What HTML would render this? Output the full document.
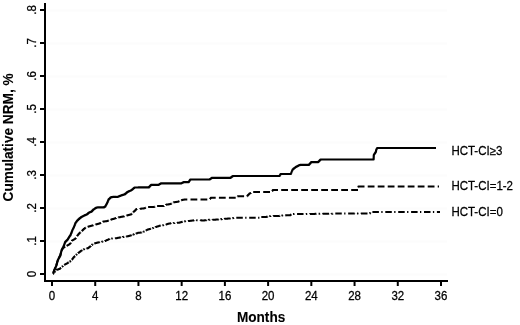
<!DOCTYPE html>
<html><head><meta charset="utf-8"><style>
html,body{margin:0;padding:0;background:#fff;width:520px;height:325px;overflow:hidden}
svg{display:block;will-change:transform}
text{font-family:"Liberation Sans", sans-serif;fill:#000;stroke:#000;stroke-width:0.25px}
</style></head><body>
<svg width="520" height="325" viewBox="0 0 520 325">
<rect width="520" height="325" fill="#fff"/>
<line x1="47" y1="274.5" x2="447" y2="274.5" stroke="#fcfcfc" stroke-width="2"/>
<line x1="47" y1="241.5" x2="447" y2="241.5" stroke="#fcfcfc" stroke-width="2"/>
<line x1="47" y1="208.5" x2="447" y2="208.5" stroke="#fcfcfc" stroke-width="2"/>
<line x1="47" y1="175.5" x2="447" y2="175.5" stroke="#fcfcfc" stroke-width="2"/>
<line x1="47" y1="142.5" x2="447" y2="142.5" stroke="#fcfcfc" stroke-width="2"/>
<line x1="47" y1="109.5" x2="447" y2="109.5" stroke="#fcfcfc" stroke-width="2"/>
<line x1="47" y1="76.5" x2="447" y2="76.5" stroke="#fcfcfc" stroke-width="2"/>
<line x1="47" y1="43.5" x2="447" y2="43.5" stroke="#fcfcfc" stroke-width="2"/>
<line x1="47" y1="10.5" x2="447" y2="10.5" stroke="#fcfcfc" stroke-width="2"/>
<polyline points="53.00,273.50 53.19,273.50 53.19,273.01 53.38,273.01 53.38,272.52 53.56,272.52 53.56,272.04 53.75,272.04 53.75,271.55 53.94,271.55 53.94,271.06 54.12,271.06 54.12,270.58 54.31,270.58 54.31,270.09 54.50,270.09 54.50,269.60 54.71,269.60 54.71,269.13 54.93,269.13 54.93,268.66 55.14,268.66 55.14,268.19 55.36,268.19 55.36,267.71 55.57,267.71 55.57,267.24 55.79,267.24 55.79,266.77 56.00,266.77 56.00,266.30 56.14,266.30 56.14,265.83 56.28,265.83 56.28,265.36 56.42,265.36 56.42,264.89 56.55,264.89 56.55,264.42 56.69,264.42 56.69,263.95 56.83,263.95 56.83,263.48 56.97,263.48 56.97,263.02 57.11,263.02 57.11,262.55 57.25,262.55 57.25,262.08 57.38,262.08 57.38,261.61 57.52,261.61 57.52,261.14 57.66,261.14 57.66,260.67 57.80,260.67 57.80,260.20 58.05,260.20 58.05,259.70 58.30,259.70 58.30,259.20 58.55,259.20 58.55,258.70 58.80,258.70 58.80,258.20 59.05,258.20 59.05,257.70 59.30,257.70 59.30,257.20 59.55,257.20 59.55,256.70 59.80,256.70 59.80,256.20 60.05,256.20 60.05,255.70 60.30,255.70 60.30,255.20 60.42,255.20 60.42,254.72 60.54,254.72 60.54,254.24 60.66,254.24 60.66,253.76 60.78,253.76 60.78,253.28 60.90,253.28 60.90,252.80 61.02,252.80 61.02,252.32 61.14,252.32 61.14,251.84 61.26,251.84 61.26,251.36 61.38,251.36 61.38,250.88 61.50,250.88 61.50,250.40 61.74,250.40 61.74,249.94 61.98,249.94 61.98,249.47 62.21,249.47 62.21,249.01 62.45,249.01 62.45,248.55 62.69,248.55 62.69,248.09 62.92,248.09 62.92,247.62 63.16,247.62 63.16,247.16 63.40,247.16 63.40,246.70 63.58,246.70 63.58,246.21 63.76,246.21 63.76,245.72 63.94,245.72 63.94,245.23 64.12,245.23 64.12,244.74 64.30,244.74 64.30,244.25 64.48,244.25 64.48,243.76 64.66,243.76 64.66,243.27 64.84,243.27 64.84,242.78 65.02,242.78 65.02,242.29 65.20,242.29 65.20,241.80 65.70,241.80 65.70,241.30 66.20,241.30 66.20,240.80 66.70,240.80 66.70,240.30 67.20,240.30 67.20,239.80 67.70,239.80 67.70,239.30 68.00,239.30 68.00,238.80 68.30,238.80 68.30,238.30 68.60,238.30 68.60,237.80 68.90,237.80 68.90,237.30 69.20,237.30 69.20,236.80 69.53,236.80 69.53,236.35 69.85,236.35 69.85,235.90 70.17,235.90 70.17,235.45 70.50,235.45 70.50,235.00 70.68,235.00 70.68,234.54 70.86,234.54 70.86,234.08 71.04,234.08 71.04,233.62 71.22,233.62 71.22,233.16 71.40,233.16 71.40,232.70 71.58,232.70 71.58,232.24 71.76,232.24 71.76,231.78 71.94,231.78 71.94,231.32 72.12,231.32 72.12,230.86 72.30,230.86 72.30,230.40 72.51,230.40 72.51,229.96 72.73,229.96 72.73,229.51 72.94,229.51 72.94,229.07 73.16,229.07 73.16,228.63 73.37,228.63 73.37,228.19 73.59,228.19 73.59,227.74 73.80,227.74 73.80,227.30 74.00,227.30 74.00,226.80 74.20,226.80 74.20,226.30 74.40,226.30 74.40,225.80 74.60,225.80 74.60,225.30 74.80,225.30 74.80,224.80 74.95,224.80 74.95,224.35 75.10,224.35 75.10,223.90 75.25,223.90 75.25,223.45 75.40,223.45 75.40,223.00 75.76,223.00 75.76,222.50 76.12,222.50 76.12,222.00 76.48,222.00 76.48,221.50 76.84,221.50 76.84,221.00 77.20,221.00 77.20,220.50 77.67,220.50 77.67,220.05 78.15,220.05 78.15,219.60 78.62,219.60 78.62,219.15 79.10,219.15 79.10,218.70 79.58,218.70 79.58,218.32 80.06,218.32 80.06,217.94 80.54,217.94 80.54,217.56 81.02,217.56 81.02,217.18 81.50,217.18 81.50,216.80 82.00,216.80 82.00,216.56 82.50,216.56 82.50,216.32 83.00,216.32 83.00,216.08 83.50,216.08 83.50,215.84 84.00,215.84 84.00,215.60 84.44,215.60 84.44,215.40 84.89,215.40 84.89,215.20 85.33,215.20 85.33,215.00 85.77,215.00 85.77,214.80 86.21,214.80 86.21,214.60 86.66,214.60 86.66,214.40 87.10,214.40 87.10,214.20 87.55,214.20 87.55,213.77 88.00,213.77 88.00,213.35 88.45,213.35 88.45,212.93 88.90,212.93 88.90,212.50 89.40,212.50 89.40,212.32 89.90,212.32 89.90,212.14 90.40,212.14 90.40,211.96 90.90,211.96 90.90,211.78 91.40,211.78 91.40,211.60 91.85,211.60 91.85,211.10 92.30,211.10 92.30,210.60 92.75,210.60 92.75,210.10 93.20,210.10 93.20,209.60 93.64,209.60 93.64,209.31 94.09,209.31 94.09,209.03 94.53,209.03 94.53,208.74 94.97,208.74 94.97,208.46 95.41,208.46 95.41,208.17 95.86,208.17 95.86,207.89 96.30,207.89 96.30,207.60 96.74,207.60 96.74,207.56 97.19,207.56 97.19,207.51 97.63,207.51 97.63,207.47 98.07,207.47 98.07,207.43 98.51,207.43 98.51,207.39 98.96,207.39 98.96,207.34 99.40,207.34 99.40,207.30 99.88,207.30 99.88,207.32 100.36,207.32 100.36,207.34 100.83,207.34 100.83,207.37 101.31,207.37 101.31,207.39 101.79,207.39 101.79,207.41 102.27,207.41 102.27,207.43 102.74,207.43 102.74,207.46 103.22,207.46 103.22,207.48 103.70,207.48 103.70,207.50 104.15,207.50 104.15,207.15 104.60,207.15 104.60,206.80 105.05,206.80 105.05,206.45 105.50,206.45 105.50,206.10 105.74,206.10 105.74,205.64 105.97,205.64 105.97,205.18 106.21,205.18 106.21,204.71 106.45,204.71 106.45,204.25 106.69,204.25 106.69,203.79 106.93,203.79 106.93,203.32 107.16,203.32 107.16,202.86 107.40,202.86 107.40,202.40 107.57,202.40 107.57,201.96 107.74,201.96 107.74,201.51 107.91,201.51 107.91,201.07 108.09,201.07 108.09,200.63 108.26,200.63 108.26,200.19 108.43,200.19 108.43,199.74 108.60,199.74 108.60,199.30 109.04,199.30 109.04,198.90 109.48,198.90 109.48,198.50 109.92,198.50 109.92,198.10 110.36,198.10 110.36,197.70 110.80,197.70 110.80,197.30 111.22,197.30 111.22,197.22 111.64,197.22 111.64,197.14 112.06,197.14 112.06,197.06 112.48,197.06 112.48,196.98 112.90,196.98 112.90,196.90 113.38,196.90 113.38,196.91 113.86,196.91 113.86,196.92 114.33,196.92 114.33,196.93 114.81,196.93 114.81,196.94 115.29,196.94 115.29,196.96 115.77,196.96 115.77,196.97 116.24,196.97 116.24,196.98 116.72,196.98 116.72,196.99 117.20,196.99 117.20,197.00 117.66,197.00 117.66,196.81 118.12,196.81 118.12,196.62 118.59,196.62 118.59,196.44 119.05,196.44 119.05,196.25 119.51,196.25 119.51,196.06 119.98,196.06 119.98,195.88 120.44,195.88 120.44,195.69 120.90,195.69 120.90,195.50 121.36,195.50 121.36,195.35 121.83,195.35 121.83,195.20 122.29,195.20 122.29,195.05 122.75,195.05 122.75,194.90 123.21,194.90 123.21,194.75 123.67,194.75 123.67,194.60 124.14,194.60 124.14,194.45 124.60,194.45 124.60,194.30 125.10,194.30 125.10,193.86 125.60,193.86 125.60,193.42 126.10,193.42 126.10,192.98 126.60,192.98 126.60,192.54 127.10,192.54 127.10,192.10 127.58,192.10 127.58,191.88 128.06,191.88 128.06,191.66 128.53,191.66 128.53,191.43 129.01,191.43 129.01,191.21 129.49,191.21 129.49,190.99 129.97,190.99 129.97,190.77 130.44,190.77 130.44,190.54 130.92,190.54 130.92,190.32 131.40,190.32 131.40,190.10 131.84,190.10 131.84,189.73 132.29,189.73 132.29,189.36 132.73,189.36 132.73,188.99 133.17,188.99 133.17,188.61 133.61,188.61 133.61,188.24 134.06,188.24 134.06,187.87 134.50,187.87 134.50,187.50 134.99,187.50 134.99,187.50 135.47,187.50 135.47,187.49 135.96,187.49 135.96,187.49 136.44,187.49 136.44,187.49 136.93,187.49 136.93,187.48 137.42,187.48 137.42,187.48 137.90,187.48 137.90,187.48 138.39,187.48 138.39,187.47 138.88,187.47 138.88,187.47 139.36,187.47 139.36,187.47 139.85,187.47 139.85,187.46 140.33,187.46 140.33,187.46 140.82,187.46 140.82,187.46 141.31,187.46 141.31,187.45 141.79,187.45 141.79,187.45 142.28,187.45 142.28,187.44 142.77,187.44 142.77,187.44 143.25,187.44 143.25,187.44 143.74,187.44 143.74,187.43 144.22,187.43 144.22,187.43 144.71,187.43 144.71,187.43 145.20,187.43 145.20,187.42 145.68,187.42 145.68,187.42 146.17,187.42 146.17,187.42 146.66,187.42 146.66,187.41 147.14,187.41 147.14,187.41 147.63,187.41 147.63,187.41 148.11,187.41 148.11,187.40 148.60,187.40 148.60,187.40 149.02,187.40 149.02,186.97 149.43,186.97 149.43,186.53 149.85,186.53 149.85,186.10 150.27,186.10 150.27,185.67 150.68,185.67 150.68,185.23 151.10,185.23 151.10,184.80 151.59,184.80 152.09,184.80 152.58,184.80 153.07,184.80 153.57,184.80 154.06,184.80 154.55,184.80 155.05,184.80 155.54,184.80 156.03,184.80 156.53,184.80 157.02,184.80 157.51,184.80 158.01,184.80 158.50,184.80 158.98,184.80 158.98,184.50 159.46,184.50 159.46,184.20 159.94,184.20 159.94,183.90 160.42,183.90 160.42,183.60 160.90,183.60 160.90,183.30 161.39,183.30 161.89,183.30 162.38,183.30 162.87,183.30 163.36,183.30 163.86,183.30 164.35,183.30 164.84,183.30 165.33,183.30 165.83,183.30 166.32,183.30 166.81,183.30 167.30,183.30 167.80,183.30 168.29,183.30 168.78,183.30 169.28,183.30 169.77,183.30 170.26,183.30 170.75,183.30 171.25,183.30 171.74,183.30 172.23,183.30 172.72,183.30 173.22,183.30 173.71,183.30 174.20,183.30 174.70,183.30 175.19,183.30 175.68,183.30 176.17,183.30 176.67,183.30 177.16,183.30 177.65,183.30 178.14,183.30 178.64,183.30 179.13,183.30 179.62,183.30 180.11,183.30 180.61,183.30 181.10,183.30 181.58,183.30 181.58,183.08 182.06,183.08 182.06,182.86 182.54,182.86 182.54,182.64 183.02,182.64 183.02,182.42 183.50,182.42 183.50,182.20 184.00,182.20 184.50,182.20 185.00,182.20 185.50,182.20 186.00,182.20 186.50,182.20 187.00,182.20 187.50,182.20 188.00,182.20 188.50,182.20 188.80,182.20 188.80,181.75 189.10,181.75 189.10,181.30 189.40,181.30 189.40,180.85 189.70,180.85 189.70,180.40 190.00,180.40 190.00,179.95 190.30,179.95 190.30,179.50 190.79,179.50 191.28,179.50 191.77,179.50 192.26,179.50 192.75,179.50 193.24,179.50 193.73,179.50 194.22,179.50 194.71,179.50 195.20,179.50 195.69,179.50 196.18,179.50 196.67,179.50 197.16,179.50 197.65,179.50 198.14,179.50 198.63,179.50 199.12,179.50 199.61,179.50 200.09,179.50 200.58,179.50 201.07,179.50 201.56,179.50 202.05,179.50 202.54,179.50 203.03,179.50 203.52,179.50 204.01,179.50 204.50,179.50 204.99,179.50 205.48,179.50 205.97,179.50 206.46,179.50 206.95,179.50 207.44,179.50 207.93,179.50 208.42,179.50 208.91,179.50 209.40,179.50 209.88,179.50 209.88,179.16 210.36,179.16 210.36,178.82 210.84,178.82 210.84,178.48 211.32,178.48 211.32,178.14 211.80,178.14 211.80,177.80 212.30,177.80 212.80,177.80 213.30,177.80 213.80,177.80 214.30,177.80 214.80,177.80 215.30,177.80 215.80,177.80 216.30,177.80 216.80,177.80 217.30,177.80 217.80,177.80 218.30,177.80 218.80,177.80 219.30,177.80 219.80,177.80 220.30,177.80 220.80,177.80 221.30,177.80 221.80,177.80 222.30,177.80 222.80,177.80 223.30,177.80 223.80,177.80 224.30,177.80 224.80,177.80 225.30,177.80 225.80,177.80 226.30,177.80 226.80,177.80 227.30,177.80 227.80,177.80 228.30,177.80 228.80,177.80 229.30,177.80 229.80,177.80 230.30,177.80 230.80,177.80 230.80,177.44 231.30,177.44 231.30,177.08 231.80,177.08 231.80,176.72 232.30,176.72 232.30,176.36 232.80,176.36 232.80,176.00 233.30,176.00 233.79,176.00 234.29,176.00 234.78,176.00 235.28,176.00 235.77,176.00 236.27,176.00 236.77,176.00 237.26,176.00 237.76,176.00 238.25,176.00 238.75,176.00 239.24,176.00 239.74,176.00 240.24,176.00 240.73,176.00 241.23,176.00 241.72,176.00 242.22,176.00 242.71,176.00 243.21,176.00 243.71,176.00 244.20,176.00 244.70,176.00 245.19,176.00 245.69,176.00 246.19,176.00 246.68,176.00 247.18,176.00 247.67,176.00 248.17,176.00 248.66,176.00 249.16,176.00 249.66,176.00 250.15,176.00 250.65,176.00 251.14,176.00 251.64,176.00 252.13,176.00 252.63,176.00 253.13,176.00 253.62,176.00 254.12,176.00 254.61,176.00 255.11,176.00 255.60,176.00 256.10,176.00 256.60,176.00 257.09,176.00 257.59,176.00 258.08,176.00 258.58,176.00 259.07,176.00 259.57,176.00 260.07,176.00 260.56,176.00 261.06,176.00 261.55,176.00 262.05,176.00 262.54,176.00 263.04,176.00 263.54,176.00 264.03,176.00 264.53,176.00 265.02,176.00 265.52,176.00 266.01,176.00 266.51,176.00 267.01,176.00 267.50,176.00 268.00,176.00 268.49,176.00 268.99,176.00 269.49,176.00 269.98,176.00 270.48,176.00 270.97,176.00 271.47,176.00 271.96,176.00 272.46,176.00 272.96,176.00 273.45,176.00 273.95,176.00 274.44,176.00 274.94,176.00 275.43,176.00 275.93,176.00 276.43,176.00 276.92,176.00 277.42,176.00 277.91,176.00 278.41,176.00 278.90,176.00 279.40,176.00 279.70,176.00 279.70,175.50 280.00,175.50 280.00,175.00 280.30,175.00 280.30,174.50 280.60,174.50 280.60,174.00 281.09,174.00 281.57,174.00 282.06,174.00 282.54,174.00 283.03,174.00 283.51,174.00 284.00,174.00 284.49,174.00 284.97,174.00 285.46,174.00 285.94,174.00 286.43,174.00 286.91,174.00 287.40,174.00 287.89,174.00 288.37,174.00 288.86,174.00 289.34,174.00 289.83,174.00 290.31,174.00 290.80,174.00 291.00,174.00 291.00,173.50 291.20,173.50 291.20,173.00 291.40,173.00 291.40,172.50 291.60,172.50 291.60,172.00 291.80,172.00 291.80,171.50 292.00,171.50 292.00,171.00 292.20,171.00 292.20,170.50 292.40,170.50 292.40,170.00 292.60,170.00 292.60,169.50 293.08,169.50 293.08,169.07 293.55,169.07 293.55,168.65 294.02,168.65 294.02,168.23 294.50,168.23 294.50,167.80 294.95,167.80 294.95,167.53 295.40,167.53 295.40,167.25 295.85,167.25 295.85,166.97 296.30,166.97 296.30,166.70 296.80,166.70 296.80,166.42 297.30,166.42 297.30,166.14 297.80,166.14 297.80,165.86 298.30,165.86 298.30,165.58 298.80,165.58 298.80,165.30 299.25,165.30 299.25,165.18 299.70,165.18 299.70,165.05 300.15,165.05 300.15,164.93 300.60,164.93 300.60,164.80 301.08,164.80 301.56,164.80 302.05,164.80 302.53,164.80 303.01,164.80 303.49,164.80 303.98,164.80 304.46,164.80 304.94,164.80 305.42,164.80 305.91,164.80 306.39,164.80 306.87,164.80 307.35,164.80 307.84,164.80 308.32,164.80 308.80,164.80 309.20,164.80 309.20,164.35 309.60,164.35 309.60,163.90 310.00,163.90 310.00,163.45 310.40,163.45 310.40,163.00 310.80,163.00 310.80,162.55 311.20,162.55 311.20,162.10 311.69,162.10 312.17,162.10 312.66,162.10 313.14,162.10 313.63,162.10 314.11,162.10 314.60,162.10 315.09,162.10 315.57,162.10 316.06,162.10 316.54,162.10 317.03,162.10 317.51,162.10 318.00,162.10 318.42,162.10 318.42,161.67 318.83,161.67 318.83,161.23 319.25,161.23 319.25,160.80 319.67,160.80 319.67,160.37 320.08,160.37 320.08,159.93 320.50,159.93 320.50,159.50 321.00,159.50 321.49,159.50 321.99,159.50 322.49,159.50 322.98,159.50 323.48,159.50 323.97,159.50 324.47,159.50 324.97,159.50 325.46,159.50 325.96,159.50 326.46,159.50 326.95,159.50 327.45,159.50 327.94,159.50 328.44,159.50 328.94,159.50 329.43,159.50 329.93,159.50 330.43,159.50 330.92,159.50 331.42,159.50 331.91,159.50 332.41,159.50 332.91,159.50 333.40,159.50 333.90,159.50 334.40,159.50 334.89,159.50 335.39,159.50 335.88,159.50 336.38,159.50 336.88,159.50 337.37,159.50 337.87,159.50 338.37,159.50 338.86,159.50 339.36,159.50 339.85,159.50 340.35,159.50 340.85,159.50 341.34,159.50 341.84,159.50 342.34,159.50 342.83,159.50 343.33,159.50 343.82,159.50 344.32,159.50 344.82,159.50 345.31,159.50 345.81,159.50 346.31,159.50 346.80,159.50 347.30,159.50 347.79,159.50 348.29,159.50 348.79,159.50 349.28,159.50 349.78,159.50 350.28,159.50 350.77,159.50 351.27,159.50 351.76,159.50 352.26,159.50 352.76,159.50 353.25,159.50 353.75,159.50 354.25,159.50 354.74,159.50 355.24,159.50 355.73,159.50 356.23,159.50 356.73,159.50 357.22,159.50 357.72,159.50 358.22,159.50 358.71,159.50 359.21,159.50 359.70,159.50 360.20,159.50 360.70,159.50 361.19,159.50 361.69,159.50 362.19,159.50 362.68,159.50 363.18,159.50 363.67,159.50 364.17,159.50 364.67,159.50 365.16,159.50 365.66,159.50 366.16,159.50 366.65,159.50 367.15,159.50 367.64,159.50 368.14,159.50 368.64,159.50 369.13,159.50 369.63,159.50 370.13,159.50 370.62,159.50 371.12,159.50 371.61,159.50 372.11,159.50 372.61,159.50 373.10,159.50 373.60,159.50 373.62,159.50 373.62,159.00 373.64,159.00 373.64,158.50 373.67,158.50 373.67,158.00 373.69,158.00 373.69,157.50 373.71,157.50 373.71,157.00 373.73,157.00 373.73,156.50 373.76,156.50 373.76,156.00 373.78,156.00 373.78,155.50 373.80,155.50 373.80,155.00 374.05,155.00 374.05,154.57 374.30,154.57 374.30,154.15 374.55,154.15 374.55,153.73 374.80,153.73 374.80,153.30 375.13,153.30 375.13,152.80 375.47,152.80 375.47,152.30 375.80,152.30 375.80,151.80 375.90,151.80 375.90,151.34 376.00,151.34 376.00,150.88 376.10,150.88 376.10,150.42 376.20,150.42 376.20,149.96 376.30,149.96 376.30,149.50 376.60,149.50 376.60,149.00 376.90,149.00 376.90,148.50 377.20,148.50 377.20,148.00 377.70,148.00 378.20,148.00 378.69,148.00 379.19,148.00 379.69,148.00 380.19,148.00 380.69,148.00 381.19,148.00 381.68,148.00 382.18,148.00 382.68,148.00 383.18,148.00 383.68,148.00 384.18,148.00 384.67,148.00 385.17,148.00 385.67,148.00 386.17,148.00 386.67,148.00 387.17,148.00 387.66,148.00 388.16,148.00 388.66,148.00 389.16,148.00 389.66,148.00 390.16,148.00 390.65,148.00 391.15,148.00 391.65,148.00 392.15,148.00 392.65,148.00 393.15,148.00 393.64,148.00 394.14,148.00 394.64,148.00 395.14,148.00 395.64,148.00 396.14,148.00 396.63,148.00 397.13,148.00 397.63,148.00 398.13,148.00 398.63,148.00 399.13,148.00 399.62,148.00 400.12,148.00 400.62,148.00 401.12,148.00 401.62,148.00 402.12,148.00 402.61,148.00 403.11,148.00 403.61,148.00 404.11,148.00 404.61,148.00 405.11,148.00 405.60,148.00 406.10,148.00 406.60,148.00 407.10,148.00 407.60,148.00 408.09,148.00 408.59,148.00 409.09,148.00 409.59,148.00 410.09,148.00 410.59,148.00 411.08,148.00 411.58,148.00 412.08,148.00 412.58,148.00 413.08,148.00 413.58,148.00 414.07,148.00 414.57,148.00 415.07,148.00 415.57,148.00 416.07,148.00 416.57,148.00 417.06,148.00 417.56,148.00 418.06,148.00 418.56,148.00 419.06,148.00 419.56,148.00 420.05,148.00 420.55,148.00 421.05,148.00 421.55,148.00 422.05,148.00 422.55,148.00 423.04,148.00 423.54,148.00 424.04,148.00 424.54,148.00 425.04,148.00 425.54,148.00 426.03,148.00 426.53,148.00 427.03,148.00 427.53,148.00 428.03,148.00 428.53,148.00 429.02,148.00 429.52,148.00 430.02,148.00 430.52,148.00 431.02,148.00 431.52,148.00 432.01,148.00 432.51,148.00 433.01,148.00 433.51,148.00 434.01,148.00 434.51,148.00 435.00,148.00 435.50,148.00 436.00,148.00" fill="none" stroke="#000" stroke-width="2.2" stroke-linejoin="round" stroke-linecap="butt"/>
<polyline points="53.00,273.50 53.19,273.50 53.19,273.01 53.38,273.01 53.38,272.52 53.56,272.52 53.56,272.04 53.75,272.04 53.75,271.55 53.94,271.55 53.94,271.06 54.12,271.06 54.12,270.58 54.31,270.58 54.31,270.09 54.50,270.09 54.50,269.60 54.71,269.60 54.71,269.13 54.93,269.13 54.93,268.66 55.14,268.66 55.14,268.19 55.36,268.19 55.36,267.71 55.57,267.71 55.57,267.24 55.79,267.24 55.79,266.77 56.00,266.77 56.00,266.30 56.14,266.30 56.14,265.83 56.28,265.83 56.28,265.36 56.42,265.36 56.42,264.89 56.55,264.89 56.55,264.42 56.69,264.42 56.69,263.95 56.83,263.95 56.83,263.48 56.97,263.48 56.97,263.02 57.11,263.02 57.11,262.55 57.25,262.55 57.25,262.08 57.38,262.08 57.38,261.61 57.52,261.61 57.52,261.14 57.66,261.14 57.66,260.67 57.80,260.67 57.80,260.20 58.05,260.20 58.05,259.70 58.30,259.70 58.30,259.20 58.55,259.20 58.55,258.70 58.80,258.70 58.80,258.20 59.05,258.20 59.05,257.70 59.30,257.70 59.30,257.20 59.55,257.20 59.55,256.70 59.80,256.70 59.80,256.20 60.05,256.20 60.05,255.70 60.30,255.70 60.30,255.20 60.42,255.20 60.42,254.72 60.54,254.72 60.54,254.24 60.66,254.24 60.66,253.76 60.78,253.76 60.78,253.28 60.90,253.28 60.90,252.80 61.02,252.80 61.02,252.32 61.14,252.32 61.14,251.84 61.26,251.84 61.26,251.36 61.38,251.36 61.38,250.88 61.50,250.88 61.50,250.40 61.76,250.40 61.76,249.90 62.02,249.90 62.02,249.40 62.28,249.40 62.28,248.90 62.54,248.90 62.54,248.40 62.80,248.40 62.80,247.90 63.28,247.90 63.28,247.63 63.76,247.63 63.76,247.37 64.23,247.37 64.23,247.10 64.71,247.10 64.71,246.83 65.19,246.83 65.19,246.57 65.67,246.57 65.67,246.30 66.14,246.30 66.14,246.03 66.62,246.03 66.62,245.77 67.10,245.77 67.10,245.50 67.54,245.50 67.54,245.23 67.99,245.23 67.99,244.96 68.43,244.96 68.43,244.69 68.87,244.69 68.87,244.41 69.31,244.41 69.31,244.14 69.76,244.14 69.76,243.87 70.20,243.87 70.20,243.60 70.46,243.60 70.46,243.16 70.71,243.16 70.71,242.71 70.97,242.71 70.97,242.27 71.23,242.27 71.23,241.83 71.49,241.83 71.49,241.39 71.74,241.39 71.74,240.94 72.00,240.94 72.00,240.50 72.44,240.50 72.44,240.24 72.89,240.24 72.89,239.99 73.33,239.99 73.33,239.73 73.77,239.73 73.77,239.47 74.21,239.47 74.21,239.21 74.66,239.21 74.66,238.96 75.10,238.96 75.10,238.70 75.46,238.70 75.46,238.20 75.82,238.20 75.82,237.70 76.18,237.70 76.18,237.20 76.54,237.20 76.54,236.70 76.90,236.70 76.90,236.20 77.22,236.20 77.22,235.78 77.54,235.78 77.54,235.36 77.86,235.36 77.86,234.94 78.18,234.94 78.18,234.52 78.50,234.52 78.50,234.10 78.98,234.10 78.98,233.60 79.46,233.60 79.46,233.10 79.94,233.10 79.94,232.60 80.42,232.60 80.42,232.10 80.90,232.10 80.90,231.60 81.40,231.60 81.40,231.12 81.90,231.12 81.90,230.64 82.40,230.64 82.40,230.16 82.90,230.16 82.90,229.68 83.40,229.68 83.40,229.20 83.88,229.20 83.88,228.82 84.36,228.82 84.36,228.44 84.84,228.44 84.84,228.06 85.32,228.06 85.32,227.68 85.80,227.68 85.80,227.30 86.30,227.30 86.30,227.16 86.80,227.16 86.80,227.02 87.30,227.02 87.30,226.88 87.80,226.88 87.80,226.74 88.30,226.74 88.30,226.60 88.76,226.60 88.76,226.46 89.22,226.46 89.22,226.32 89.69,226.32 89.69,226.19 90.15,226.19 90.15,226.05 90.61,226.05 90.61,225.91 91.08,225.91 91.08,225.78 91.54,225.78 91.54,225.64 92.00,225.64 92.00,225.50 92.46,225.50 92.46,225.38 92.92,225.38 92.92,225.25 93.39,225.25 93.39,225.12 93.85,225.12 93.85,225.00 94.31,225.00 94.31,224.88 94.78,224.88 94.78,224.75 95.24,224.75 95.24,224.62 95.70,224.62 95.70,224.50 96.18,224.50 96.18,224.36 96.66,224.36 96.66,224.21 97.13,224.21 97.13,224.07 97.61,224.07 97.61,223.92 98.09,223.92 98.09,223.78 98.57,223.78 98.57,223.63 99.04,223.63 99.04,223.49 99.52,223.49 99.52,223.34 100.00,223.34 100.00,223.20 100.44,223.20 100.44,222.97 100.89,222.97 100.89,222.74 101.33,222.74 101.33,222.51 101.77,222.51 101.77,222.29 102.21,222.29 102.21,222.06 102.66,222.06 102.66,221.83 103.10,221.83 103.10,221.60 103.56,221.60 103.56,221.54 104.02,221.54 104.02,221.47 104.49,221.47 104.49,221.41 104.95,221.41 104.95,221.35 105.41,221.35 105.41,221.29 105.88,221.29 105.88,221.22 106.34,221.22 106.34,221.16 106.80,221.16 106.80,221.10 107.28,221.10 107.28,220.92 107.76,220.92 107.76,220.74 108.23,220.74 108.23,220.57 108.71,220.57 108.71,220.39 109.19,220.39 109.19,220.21 109.67,220.21 109.67,220.03 110.14,220.03 110.14,219.86 110.62,219.86 110.62,219.68 111.10,219.68 111.10,219.50 111.59,219.50 111.59,219.36 112.07,219.36 112.07,219.21 112.56,219.21 112.56,219.07 113.04,219.07 113.04,218.93 113.53,218.93 113.53,218.79 114.01,218.79 114.01,218.64 114.50,218.64 114.50,218.50 114.96,218.50 114.96,218.36 115.42,218.36 115.42,218.22 115.89,218.22 115.89,218.09 116.35,218.09 116.35,217.95 116.81,217.95 116.81,217.81 117.28,217.81 117.28,217.68 117.74,217.68 117.74,217.54 118.20,217.54 118.20,217.40 118.69,217.40 118.69,217.31 119.18,217.31 119.18,217.22 119.67,217.22 119.67,217.13 120.16,217.13 120.16,217.04 120.65,217.04 120.65,216.95 121.14,216.95 121.14,216.86 121.63,216.86 121.63,216.77 122.12,216.77 122.12,216.68 122.61,216.68 122.61,216.59 123.10,216.59 123.10,216.50 123.56,216.50 123.56,216.38 124.02,216.38 124.02,216.25 124.49,216.25 124.49,216.12 124.95,216.12 124.95,216.00 125.41,216.00 125.41,215.88 125.88,215.88 125.88,215.75 126.34,215.75 126.34,215.62 126.80,215.62 126.80,215.50 127.28,215.50 127.28,215.37 127.76,215.37 127.76,215.23 128.23,215.23 128.23,215.10 128.71,215.10 128.71,214.97 129.19,214.97 129.19,214.83 129.67,214.83 129.67,214.70 130.14,214.70 130.14,214.57 130.62,214.57 130.62,214.43 131.10,214.43 131.10,214.30 131.58,214.30 131.58,213.80 132.06,213.80 132.06,213.30 132.54,213.30 132.54,212.80 133.02,212.80 133.02,212.30 133.50,212.30 133.50,211.80 133.97,211.80 133.97,211.35 134.43,211.35 134.43,210.90 134.90,210.90 134.90,210.45 135.37,210.45 135.37,210.00 135.83,210.00 135.83,209.55 136.30,209.55 136.30,209.10 136.79,209.10 136.79,209.06 137.27,209.06 137.27,209.01 137.76,209.01 137.76,208.97 138.24,208.97 138.24,208.93 138.73,208.93 138.73,208.89 139.21,208.89 139.21,208.84 139.70,208.84 139.70,208.80 140.16,208.80 140.16,208.75 140.62,208.75 140.62,208.70 141.08,208.70 141.08,208.65 141.54,208.65 141.54,208.60 142.00,208.60 142.00,208.55 142.46,208.55 142.46,208.50 142.92,208.50 142.92,208.45 143.38,208.45 143.38,208.40 143.84,208.40 143.84,208.35 144.30,208.35 144.30,208.30 144.80,208.30 144.80,208.04 145.30,208.04 145.30,207.78 145.80,207.78 145.80,207.52 146.30,207.52 146.30,207.26 146.80,207.26 146.80,207.00 147.30,207.00 147.80,207.00 148.30,207.00 148.80,207.00 149.30,207.00 149.80,207.00 150.30,207.00 150.80,207.00 151.30,207.00 151.80,207.00 152.30,207.00 152.80,207.00 153.30,207.00 153.80,207.00 154.24,207.00 154.24,206.86 154.69,206.86 154.69,206.71 155.13,206.71 155.13,206.57 155.57,206.57 155.57,206.43 156.01,206.43 156.01,206.29 156.46,206.29 156.46,206.14 156.90,206.14 156.90,206.00 157.40,206.00 157.90,206.00 158.40,206.00 158.90,206.00 159.40,206.00 159.90,206.00 160.40,206.00 160.90,206.00 161.40,206.00 161.90,206.00 162.40,206.00 162.90,206.00 163.40,206.00 163.84,206.00 163.84,205.80 164.29,205.80 164.29,205.60 164.73,205.60 164.73,205.40 165.17,205.40 165.17,205.20 165.61,205.20 165.61,205.00 166.06,205.00 166.06,204.80 166.50,204.80 166.50,204.60 166.97,204.60 166.97,204.53 167.45,204.53 167.45,204.45 167.93,204.45 167.93,204.38 168.40,204.38 168.40,204.30 168.88,204.30 168.88,204.22 169.35,204.22 169.35,204.15 169.83,204.15 169.83,204.07 170.30,204.07 170.30,204.00 170.79,204.00 170.79,203.76 171.27,203.76 171.27,203.51 171.76,203.51 171.76,203.27 172.24,203.27 172.24,203.03 172.73,203.03 172.73,202.79 173.21,202.79 173.21,202.54 173.70,202.54 173.70,202.30 174.16,202.30 174.16,202.23 174.62,202.23 174.62,202.16 175.08,202.16 175.08,202.09 175.54,202.09 175.54,202.02 176.00,202.02 176.00,201.95 176.46,201.95 176.46,201.88 176.92,201.88 176.92,201.81 177.38,201.81 177.38,201.74 177.84,201.74 177.84,201.67 178.30,201.67 178.30,201.60 178.80,201.60 178.80,201.34 179.30,201.34 179.30,201.08 179.80,201.08 179.80,200.82 180.30,200.82 180.30,200.56 180.80,200.56 180.80,200.30 181.28,200.30 181.28,200.18 181.76,200.18 181.76,200.06 182.24,200.06 182.24,199.94 182.72,199.94 182.72,199.82 183.20,199.82 183.20,199.70 183.64,199.70 183.64,199.66 184.09,199.66 184.09,199.61 184.53,199.61 184.53,199.57 184.97,199.57 184.97,199.53 185.41,199.53 185.41,199.49 185.86,199.49 185.86,199.44 186.30,199.44 186.30,199.40 186.80,199.40 187.29,199.40 187.79,199.40 188.28,199.40 188.78,199.40 189.27,199.40 189.77,199.40 190.27,199.40 190.76,199.40 191.26,199.40 191.75,199.40 192.25,199.40 192.74,199.40 193.24,199.40 193.74,199.40 194.23,199.40 194.73,199.40 195.22,199.40 195.72,199.40 196.21,199.40 196.71,199.40 197.21,199.40 197.70,199.40 198.20,199.40 198.69,199.40 199.19,199.40 199.69,199.40 200.18,199.40 200.68,199.40 201.17,199.40 201.67,199.40 202.16,199.40 202.66,199.40 203.16,199.40 203.65,199.40 204.15,199.40 204.64,199.40 205.14,199.40 205.63,199.40 206.13,199.40 206.63,199.40 207.12,199.40 207.62,199.40 208.11,199.40 208.61,199.40 209.10,199.40 209.60,199.40 209.90,199.40 209.90,199.00 210.20,199.00 210.20,198.60 210.50,198.60 210.50,198.20 210.80,198.20 210.80,197.80 211.30,197.80 211.79,197.80 212.29,197.80 212.78,197.80 213.28,197.80 213.78,197.80 214.27,197.80 214.77,197.80 215.27,197.80 215.76,197.80 216.26,197.80 216.75,197.80 217.25,197.80 217.75,197.80 218.24,197.80 218.74,197.80 219.23,197.80 219.73,197.80 220.23,197.80 220.72,197.80 221.22,197.80 221.72,197.80 222.21,197.80 222.71,197.80 223.20,197.80 223.70,197.80 224.20,197.80 224.69,197.80 225.19,197.80 225.68,197.80 226.18,197.80 226.68,197.80 227.17,197.80 227.67,197.80 228.17,197.80 228.66,197.80 229.16,197.80 229.65,197.80 230.15,197.80 230.65,197.80 231.14,197.80 231.64,197.80 232.13,197.80 232.63,197.80 233.13,197.80 233.62,197.80 234.12,197.80 234.62,197.80 235.11,197.80 235.61,197.80 236.10,197.80 236.60,197.80 236.90,197.80 236.90,197.40 237.20,197.40 237.20,197.00 237.50,197.00 237.50,196.60 237.80,196.60 237.80,196.20 238.28,196.20 238.76,196.20 239.24,196.20 239.72,196.20 240.19,196.20 240.67,196.20 241.15,196.20 241.63,196.20 242.11,196.20 242.59,196.20 243.07,196.20 243.55,196.20 244.03,196.20 244.51,196.20 244.98,196.20 245.46,196.20 245.94,196.20 246.42,196.20 246.90,196.20 247.32,196.20 247.32,195.75 247.73,195.75 247.73,195.30 248.15,195.30 248.15,194.85 248.57,194.85 248.57,194.40 248.98,194.40 248.98,193.95 249.40,193.95 249.40,193.50 249.88,193.50 249.88,193.22 250.36,193.22 250.36,192.94 250.84,192.94 250.84,192.66 251.32,192.66 251.32,192.38 251.80,192.38 251.80,192.10 252.29,192.10 252.79,192.10 253.28,192.10 253.77,192.10 254.26,192.10 254.75,192.10 255.25,192.10 255.74,192.10 256.23,192.10 256.73,192.10 257.22,192.10 257.71,192.10 258.20,192.10 258.69,192.10 259.19,192.10 259.68,192.10 260.17,192.10 260.67,192.10 261.16,192.10 261.65,192.10 262.14,192.10 262.63,192.10 263.13,192.10 263.62,192.10 264.11,192.10 264.61,192.10 265.10,192.10 265.59,192.10 266.08,192.10 266.57,192.10 267.07,192.10 267.56,192.10 268.05,192.10 268.55,192.10 269.04,192.10 269.53,192.10 270.02,192.10 270.51,192.10 271.01,192.10 271.50,192.10 271.82,192.10 271.82,191.60 272.15,191.60 272.15,191.10 272.48,191.10 272.48,190.60 272.80,190.60 272.80,190.10 273.30,190.10 273.80,190.10 274.30,190.10 274.80,190.10 275.30,190.10 275.80,190.10 276.30,190.10 276.80,190.10 277.29,190.10 277.79,190.10 278.29,190.10 278.79,190.10 279.29,190.10 279.79,190.10 280.29,190.10 280.79,190.10 281.29,190.10 281.79,190.10 282.29,190.10 282.79,190.10 283.29,190.10 283.79,190.10 284.29,190.10 284.79,190.10 285.29,190.10 285.78,190.10 286.28,190.10 286.78,190.10 287.28,190.10 287.78,190.10 288.28,190.10 288.78,190.10 289.28,190.10 289.78,190.10 290.28,190.10 290.78,190.10 291.28,190.10 291.78,190.10 292.28,190.10 292.78,190.10 293.28,190.10 293.78,190.10 294.27,190.10 294.77,190.10 295.27,190.10 295.77,190.10 296.27,190.10 296.77,190.10 297.27,190.10 297.77,190.10 298.27,190.10 298.77,190.10 299.27,190.10 299.77,190.10 300.27,190.10 300.77,190.10 301.27,190.10 301.77,190.10 302.27,190.10 302.76,190.10 303.26,190.10 303.76,190.10 304.26,190.10 304.76,190.10 305.26,190.10 305.76,190.10 306.26,190.10 306.76,190.10 307.26,190.10 307.76,190.10 308.26,190.10 308.76,190.10 309.26,190.10 309.76,190.10 310.26,190.10 310.76,190.10 311.25,190.10 311.75,190.10 312.25,190.10 312.75,190.10 313.25,190.10 313.75,190.10 314.25,190.10 314.75,190.10 315.25,190.10 315.75,190.10 316.25,190.10 316.75,190.10 317.25,190.10 317.75,190.10 318.25,190.10 318.75,190.10 319.25,190.10 319.75,190.10 320.24,190.10 320.74,190.10 321.24,190.10 321.74,190.10 322.24,190.10 322.74,190.10 323.24,190.10 323.74,190.10 324.24,190.10 324.74,190.10 325.24,190.10 325.74,190.10 326.24,190.10 326.74,190.10 327.24,190.10 327.74,190.10 328.24,190.10 328.73,190.10 329.23,190.10 329.73,190.10 330.23,190.10 330.73,190.10 331.23,190.10 331.73,190.10 332.23,190.10 332.73,190.10 333.23,190.10 333.73,190.10 334.23,190.10 334.73,190.10 335.23,190.10 335.73,190.10 336.23,190.10 336.73,190.10 337.22,190.10 337.72,190.10 338.22,190.10 338.72,190.10 339.22,190.10 339.72,190.10 340.22,190.10 340.72,190.10 341.22,190.10 341.72,190.10 342.22,190.10 342.72,190.10 343.22,190.10 343.72,190.10 344.22,190.10 344.72,190.10 345.22,190.10 345.71,190.10 346.21,190.10 346.71,190.10 347.21,190.10 347.71,190.10 348.21,190.10 348.71,190.10 349.21,190.10 349.71,190.10 350.21,190.10 350.71,190.10 351.21,190.10 351.71,190.10 352.21,190.10 352.71,190.10 353.21,190.10 353.71,190.10 354.20,190.10 354.70,190.10 355.20,190.10 355.70,190.10 356.20,190.10 356.70,190.10 357.20,190.10 357.70,190.10 358.20,190.10 358.23,190.10 358.23,189.60 358.26,189.60 358.26,189.10 358.29,189.10 358.29,188.60 358.31,188.60 358.31,188.10 358.34,188.10 358.34,187.60 358.37,187.60 358.37,187.10 358.40,187.10 358.40,186.60 358.90,186.60 359.40,186.60 359.89,186.60 360.39,186.60 360.89,186.60 361.39,186.60 361.88,186.60 362.38,186.60 362.88,186.60 363.38,186.60 363.87,186.60 364.37,186.60 364.87,186.60 365.37,186.60 365.86,186.60 366.36,186.60 366.86,186.60 367.36,186.60 367.85,186.60 368.35,186.60 368.85,186.60 369.35,186.60 369.84,186.60 370.34,186.60 370.84,186.60 371.34,186.60 371.83,186.60 372.33,186.60 372.83,186.60 373.33,186.60 373.82,186.60 374.32,186.60 374.82,186.60 375.32,186.60 375.81,186.60 376.31,186.60 376.81,186.60 377.31,186.60 377.80,186.60 378.30,186.60 378.80,186.60 379.30,186.60 379.79,186.60 380.29,186.60 380.79,186.60 381.29,186.60 381.78,186.60 382.28,186.60 382.78,186.60 383.28,186.60 383.77,186.60 384.27,186.60 384.77,186.60 385.27,186.60 385.76,186.60 386.26,186.60 386.76,186.60 387.26,186.60 387.75,186.60 388.25,186.60 388.75,186.60 389.25,186.60 389.74,186.60 390.24,186.60 390.74,186.60 391.24,186.60 391.73,186.60 392.23,186.60 392.73,186.60 393.23,186.60 393.72,186.60 394.22,186.60 394.72,186.60 395.22,186.60 395.71,186.60 396.21,186.60 396.71,186.60 397.21,186.60 397.70,186.60 398.20,186.60 398.70,186.60 399.20,186.60 399.70,186.60 400.19,186.60 400.69,186.60 401.19,186.60 401.69,186.60 402.18,186.60 402.68,186.60 403.18,186.60 403.68,186.60 404.17,186.60 404.67,186.60 405.17,186.60 405.67,186.60 406.16,186.60 406.66,186.60 407.16,186.60 407.66,186.60 408.15,186.60 408.65,186.60 409.15,186.60 409.65,186.60 410.14,186.60 410.64,186.60 411.14,186.60 411.64,186.60 412.13,186.60 412.63,186.60 413.13,186.60 413.63,186.60 414.12,186.60 414.62,186.60 415.12,186.60 415.62,186.60 416.11,186.60 416.61,186.60 417.11,186.60 417.61,186.60 418.10,186.60 418.60,186.60 419.10,186.60 419.60,186.60 420.09,186.60 420.59,186.60 421.09,186.60 421.59,186.60 422.08,186.60 422.58,186.60 423.08,186.60 423.58,186.60 424.07,186.60 424.57,186.60 425.07,186.60 425.57,186.60 426.06,186.60 426.56,186.60 427.06,186.60 427.56,186.60 428.05,186.60 428.55,186.60 429.05,186.60 429.55,186.60 430.04,186.60 430.54,186.60 431.04,186.60 431.54,186.60 432.03,186.60 432.53,186.60 433.03,186.60 433.53,186.60 434.02,186.60 434.52,186.60 435.02,186.60 435.52,186.60 436.01,186.60 436.51,186.60 437.01,186.60 437.51,186.60 438.00,186.60 438.50,186.60 439.00,186.60" fill="none" stroke="#000" stroke-width="2.0" stroke-dasharray="6.8 3.2" stroke-dashoffset="8.40" stroke-linejoin="round"/>
<polyline points="53.00,273.50 53.43,273.50 53.43,273.00 53.86,273.00 53.86,272.50 54.29,272.50 54.29,272.00 54.71,272.00 54.71,271.50 55.14,271.50 55.14,271.00 55.57,271.00 55.57,270.50 56.00,270.50 56.00,270.00 56.46,270.00 56.46,269.85 56.92,269.85 56.92,269.70 57.39,269.70 57.39,269.55 57.85,269.55 57.85,269.40 58.31,269.40 58.31,269.25 58.78,269.25 58.78,269.10 59.24,269.10 59.24,268.95 59.70,268.95 59.70,268.80 60.14,268.80 60.14,268.36 60.59,268.36 60.59,267.91 61.03,267.91 61.03,267.47 61.47,267.47 61.47,267.03 61.91,267.03 61.91,266.59 62.36,266.59 62.36,266.14 62.80,266.14 62.80,265.70 63.28,265.70 63.28,265.42 63.76,265.42 63.76,265.14 64.23,265.14 64.23,264.87 64.71,264.87 64.71,264.59 65.19,264.59 65.19,264.31 65.67,264.31 65.67,264.03 66.14,264.03 66.14,263.76 66.62,263.76 66.62,263.48 67.10,263.48 67.10,263.20 67.56,263.20 67.56,262.90 68.02,262.90 68.02,262.60 68.49,262.60 68.49,262.30 68.95,262.30 68.95,262.00 69.41,262.00 69.41,261.70 69.88,261.70 69.88,261.40 70.34,261.40 70.34,261.10 70.80,261.10 70.80,260.80 71.17,260.80 71.17,260.34 71.55,260.34 71.55,259.88 71.92,259.88 71.92,259.41 72.30,259.41 72.30,258.95 72.67,258.95 72.67,258.49 73.05,258.49 73.05,258.03 73.42,258.03 73.42,257.56 73.80,257.56 73.80,257.10 74.22,257.10 74.22,256.65 74.63,256.65 74.63,256.20 75.05,256.20 75.05,255.75 75.47,255.75 75.47,255.30 75.88,255.30 75.88,254.85 76.30,254.85 76.30,254.40 76.78,254.40 76.78,254.02 77.26,254.02 77.26,253.64 77.73,253.64 77.73,253.27 78.21,253.27 78.21,252.89 78.69,252.89 78.69,252.51 79.17,252.51 79.17,252.13 79.64,252.13 79.64,251.76 80.12,251.76 80.12,251.38 80.60,251.38 80.60,251.00 81.04,251.00 81.04,250.74 81.49,250.74 81.49,250.49 81.93,250.49 81.93,250.23 82.37,250.23 82.37,249.97 82.81,249.97 82.81,249.71 83.26,249.71 83.26,249.46 83.70,249.46 83.70,249.20 84.20,249.20 84.20,249.07 84.70,249.07 84.70,248.95 85.20,248.95 85.20,248.82 85.70,248.82 85.70,248.70 86.20,248.70 86.20,248.57 86.70,248.57 86.70,248.45 87.20,248.45 87.20,248.32 87.70,248.32 87.70,248.20 88.20,248.20 88.20,247.82 88.70,247.82 88.70,247.44 89.20,247.44 89.20,247.06 89.70,247.06 89.70,246.68 90.20,246.68 90.20,246.30 90.68,246.30 90.68,245.88 91.16,245.88 91.16,245.46 91.64,245.46 91.64,245.04 92.12,245.04 92.12,244.62 92.60,244.62 92.60,244.20 93.04,244.20 93.04,244.03 93.49,244.03 93.49,243.86 93.93,243.86 93.93,243.69 94.37,243.69 94.37,243.51 94.81,243.51 94.81,243.34 95.26,243.34 95.26,243.17 95.70,243.17 95.70,243.00 96.14,243.00 96.14,242.90 96.59,242.90 96.59,242.80 97.03,242.80 97.03,242.70 97.47,242.70 97.47,242.60 97.91,242.60 97.91,242.50 98.36,242.50 98.36,242.40 98.80,242.40 98.80,242.30 99.30,242.30 99.30,242.20 99.80,242.20 99.80,242.10 100.30,242.10 100.30,242.00 100.80,242.00 100.80,241.90 101.30,241.90 101.30,241.80 101.80,241.80 101.80,241.70 102.26,241.70 102.26,241.59 102.72,241.59 102.72,241.47 103.19,241.47 103.19,241.36 103.65,241.36 103.65,241.25 104.11,241.25 104.11,241.14 104.58,241.14 104.58,241.03 105.04,241.03 105.04,240.91 105.50,240.91 105.50,240.80 105.94,240.80 105.94,240.57 106.39,240.57 106.39,240.34 106.83,240.34 106.83,240.11 107.27,240.11 107.27,239.89 107.71,239.89 107.71,239.66 108.16,239.66 108.16,239.43 108.60,239.43 108.60,239.20 109.04,239.20 109.04,239.10 109.49,239.10 109.49,239.00 109.93,239.00 109.93,238.90 110.37,238.90 110.37,238.80 110.81,238.80 110.81,238.70 111.26,238.70 111.26,238.60 111.70,238.60 111.70,238.50 112.18,238.50 112.18,238.47 112.66,238.47 112.66,238.44 113.14,238.44 113.14,238.41 113.62,238.41 113.62,238.38 114.10,238.38 114.10,238.35 114.58,238.35 114.58,238.32 115.06,238.32 115.06,238.29 115.54,238.29 115.54,238.26 116.02,238.26 116.02,238.23 116.50,238.23 116.50,238.20 116.97,238.20 116.97,238.09 117.44,238.09 117.44,237.97 117.91,237.97 117.91,237.86 118.39,237.86 118.39,237.74 118.86,237.74 118.86,237.63 119.33,237.63 119.33,237.51 119.80,237.51 119.80,237.40 120.29,237.40 120.29,237.33 120.77,237.33 120.77,237.26 121.26,237.26 121.26,237.19 121.74,237.19 121.74,237.11 122.23,237.11 122.23,237.04 122.71,237.04 122.71,236.97 123.20,236.97 123.20,236.90 123.68,236.90 123.68,236.83 124.16,236.83 124.16,236.77 124.63,236.77 124.63,236.70 125.11,236.70 125.11,236.63 125.59,236.63 125.59,236.57 126.07,236.57 126.07,236.50 126.54,236.50 126.54,236.43 127.02,236.43 127.02,236.37 127.50,236.37 127.50,236.30 127.94,236.30 127.94,236.19 128.39,236.19 128.39,236.07 128.83,236.07 128.83,235.96 129.27,235.96 129.27,235.84 129.71,235.84 129.71,235.73 130.16,235.73 130.16,235.61 130.60,235.61 130.60,235.50 131.04,235.50 131.04,235.33 131.49,235.33 131.49,235.16 131.93,235.16 131.93,234.99 132.37,234.99 132.37,234.81 132.81,234.81 132.81,234.64 133.26,234.64 133.26,234.47 133.70,234.47 133.70,234.30 134.18,234.30 134.18,234.13 134.66,234.13 134.66,233.97 135.13,233.97 135.13,233.80 135.61,233.80 135.61,233.63 136.09,233.63 136.09,233.47 136.57,233.47 136.57,233.30 137.04,233.30 137.04,233.13 137.52,233.13 137.52,232.97 138.00,232.97 138.00,232.80 138.44,232.80 138.44,232.76 138.89,232.76 138.89,232.71 139.33,232.71 139.33,232.67 139.77,232.67 139.77,232.63 140.21,232.63 140.21,232.59 140.66,232.59 140.66,232.54 141.10,232.54 141.10,232.50 141.56,232.50 141.56,232.34 142.03,232.34 142.03,232.18 142.49,232.18 142.49,232.01 142.95,232.01 142.95,231.85 143.41,231.85 143.41,231.69 143.88,231.69 143.88,231.52 144.34,231.52 144.34,231.36 144.80,231.36 144.80,231.20 145.26,231.20 145.26,230.90 145.72,230.90 145.72,230.60 146.18,230.60 146.18,230.30 146.64,230.30 146.64,230.00 147.10,230.00 147.10,229.70 147.56,229.70 147.56,229.56 148.03,229.56 148.03,229.42 148.49,229.42 148.49,229.29 148.95,229.29 148.95,229.15 149.41,229.15 149.41,229.01 149.88,229.01 149.88,228.88 150.34,228.88 150.34,228.74 150.80,228.74 150.80,228.60 151.30,228.60 151.30,228.47 151.80,228.47 151.80,228.33 152.30,228.33 152.30,228.20 152.80,228.20 152.80,228.07 153.30,228.07 153.30,227.93 153.80,227.93 153.80,227.80 154.24,227.80 154.24,227.63 154.69,227.63 154.69,227.46 155.13,227.46 155.13,227.29 155.57,227.29 155.57,227.11 156.01,227.11 156.01,226.94 156.46,226.94 156.46,226.77 156.90,226.77 156.90,226.60 157.36,226.60 157.36,226.45 157.82,226.45 157.82,226.30 158.29,226.30 158.29,226.15 158.75,226.15 158.75,226.00 159.21,226.00 159.21,225.85 159.68,225.85 159.68,225.70 160.14,225.70 160.14,225.55 160.60,225.55 160.60,225.40 161.06,225.40 161.06,225.36 161.53,225.36 161.53,225.32 161.99,225.32 161.99,225.29 162.45,225.29 162.45,225.25 162.91,225.25 162.91,225.21 163.38,225.21 163.38,225.18 163.84,225.18 163.84,225.14 164.30,225.14 164.30,225.10 164.76,225.10 164.76,224.92 165.23,224.92 165.23,224.75 165.69,224.75 165.69,224.57 166.15,224.57 166.15,224.40 166.61,224.40 166.61,224.22 167.07,224.22 167.07,224.05 167.54,224.05 167.54,223.88 168.00,223.88 168.00,223.70 168.49,223.70 168.49,223.63 168.97,223.63 168.97,223.56 169.46,223.56 169.46,223.49 169.94,223.49 169.94,223.41 170.43,223.41 170.43,223.34 170.91,223.34 170.91,223.27 171.40,223.27 171.40,223.20 171.84,223.20 171.84,223.17 172.29,223.17 172.29,223.14 172.73,223.14 172.73,223.11 173.17,223.11 173.17,223.09 173.61,223.09 173.61,223.06 174.06,223.06 174.06,223.03 174.50,223.03 174.50,223.00 174.99,223.00 174.99,222.96 175.48,222.96 175.48,222.92 175.97,222.92 175.97,222.88 176.46,222.88 176.46,222.84 176.95,222.84 176.95,222.80 177.44,222.80 177.44,222.76 177.93,222.76 177.93,222.72 178.42,222.72 178.42,222.68 178.91,222.68 178.91,222.64 179.40,222.64 179.40,222.60 179.84,222.60 179.84,222.46 180.29,222.46 180.29,222.31 180.73,222.31 180.73,222.17 181.17,222.17 181.17,222.03 181.61,222.03 181.61,221.89 182.06,221.89 182.06,221.74 182.50,221.74 182.50,221.60 182.96,221.60 182.96,221.55 183.43,221.55 183.43,221.50 183.89,221.50 183.89,221.45 184.35,221.45 184.35,221.40 184.81,221.40 184.81,221.35 185.27,221.35 185.27,221.30 185.74,221.30 185.74,221.25 186.20,221.25 186.20,221.20 186.68,221.20 186.68,221.16 187.16,221.16 187.16,221.11 187.63,221.11 187.63,221.07 188.11,221.07 188.11,221.02 188.59,221.02 188.59,220.98 189.07,220.98 189.07,220.93 189.54,220.93 189.54,220.89 190.02,220.89 190.02,220.84 190.50,220.84 190.50,220.80 190.96,220.80 190.96,220.74 191.43,220.74 191.43,220.68 191.89,220.68 191.89,220.61 192.35,220.61 192.35,220.55 192.81,220.55 192.81,220.49 193.27,220.49 193.27,220.43 193.74,220.43 193.74,220.36 194.20,220.36 194.20,220.30 194.69,220.30 194.69,220.31 195.18,220.31 195.18,220.31 195.67,220.31 195.67,220.31 196.16,220.31 196.16,220.32 196.65,220.32 196.65,220.33 197.14,220.33 197.14,220.33 197.63,220.33 197.63,220.34 198.12,220.34 198.12,220.34 198.61,220.34 198.61,220.34 199.10,220.34 199.10,220.35 199.59,220.35 199.59,220.36 200.08,220.36 200.08,220.36 200.57,220.36 200.57,220.37 201.06,220.37 201.06,220.37 201.55,220.37 201.55,220.38 202.04,220.38 202.04,220.38 202.53,220.38 202.53,220.39 203.02,220.39 203.02,220.39 203.51,220.39 203.51,220.40 204.00,220.40 204.00,220.40 204.47,220.40 204.47,220.35 204.95,220.35 204.95,220.29 205.42,220.29 205.42,220.24 205.89,220.24 205.89,220.18 206.36,220.18 206.36,220.13 206.84,220.13 206.84,220.07 207.31,220.07 207.31,220.02 207.78,220.02 207.78,219.96 208.25,219.96 208.25,219.91 208.73,219.91 208.73,219.85 209.20,219.85 209.20,219.80 209.67,219.80 209.67,219.79 210.15,219.79 210.15,219.77 210.62,219.77 210.62,219.76 211.09,219.76 211.09,219.75 211.57,219.75 211.57,219.73 212.04,219.73 212.04,219.72 212.51,219.72 212.51,219.71 212.99,219.71 212.99,219.69 213.46,219.69 213.46,219.68 213.93,219.68 213.93,219.67 214.41,219.67 214.41,219.65 214.88,219.65 214.88,219.64 215.35,219.64 215.35,219.63 215.83,219.63 215.83,219.61 216.30,219.61 216.30,219.60 216.80,219.60 216.80,219.55 217.30,219.55 217.30,219.51 217.80,219.51 217.80,219.46 218.30,219.46 218.30,219.42 218.80,219.42 218.80,219.37 219.30,219.37 219.30,219.33 219.80,219.33 219.80,219.28 220.30,219.28 220.30,219.24 220.80,219.24 220.80,219.19 221.30,219.19 221.30,219.15 221.80,219.15 221.80,219.10 222.29,219.10 222.29,219.06 222.78,219.06 222.78,219.02 223.28,219.02 223.28,218.97 223.77,218.97 223.77,218.93 224.26,218.93 224.26,218.89 224.75,218.89 224.75,218.85 225.24,218.85 225.24,218.81 225.73,218.81 225.73,218.77 226.22,218.77 226.22,218.72 226.72,218.72 226.72,218.68 227.21,218.68 227.21,218.64 227.70,218.64 227.70,218.60 228.18,218.60 228.18,218.56 228.66,218.56 228.66,218.51 229.13,218.51 229.13,218.47 229.61,218.47 229.61,218.42 230.09,218.42 230.09,218.38 230.57,218.38 230.57,218.33 231.04,218.33 231.04,218.29 231.52,218.29 231.52,218.24 232.00,218.24 232.00,218.20 232.50,218.20 232.50,218.13 233.00,218.13 233.00,218.07 233.50,218.07 233.50,218.00 234.00,218.00 234.00,217.93 234.50,217.93 234.50,217.87 235.00,217.87 235.00,217.80 235.50,217.80 236.00,217.80 236.50,217.80 237.00,217.80 237.50,217.80 238.00,217.80 238.50,217.80 239.00,217.80 239.50,217.80 240.00,217.80 240.50,217.80 241.00,217.80 241.50,217.80 242.00,217.80 242.50,217.80 243.00,217.80 243.50,217.80 244.00,217.80 244.50,217.80 245.00,217.80 245.50,217.80 246.00,217.80 246.50,217.80 247.00,217.80 247.50,217.80 248.00,217.80 248.50,217.80 249.00,217.80 249.50,217.80 250.00,217.80 250.50,217.80 251.00,217.80 251.50,217.80 252.00,217.80 252.50,217.80 253.00,217.80 253.50,217.80 254.00,217.80 254.50,217.80 255.00,217.80 255.50,217.80 256.00,217.80 256.50,217.80 257.00,217.80 257.50,217.80 258.00,217.80 258.50,217.80 259.00,217.80 259.50,217.80 259.85,217.80 259.85,217.40 260.20,217.40 260.20,217.00 260.68,217.00 261.17,217.00 261.65,217.00 262.13,217.00 262.62,217.00 263.10,217.00 263.58,217.00 264.07,217.00 264.55,217.00 265.03,217.00 265.52,217.00 266.00,217.00 266.43,217.00 266.43,216.85 266.87,216.85 266.87,216.70 267.30,216.70 267.30,216.55 267.73,216.55 267.73,216.40 268.17,216.40 268.17,216.25 268.60,216.25 268.60,216.10 269.10,216.10 269.10,216.09 269.59,216.09 269.59,216.09 270.09,216.09 270.09,216.09 270.58,216.09 270.58,216.08 271.08,216.08 271.08,216.07 271.57,216.07 271.57,216.07 272.06,216.07 272.06,216.06 272.56,216.06 272.56,216.06 273.06,216.06 273.06,216.06 273.55,216.06 273.55,216.05 274.05,216.05 274.05,216.04 274.54,216.04 274.54,216.04 275.04,216.04 275.04,216.03 275.53,216.03 275.53,216.03 276.02,216.03 276.02,216.03 276.52,216.03 276.52,216.02 277.01,216.02 277.01,216.01 277.51,216.01 277.51,216.01 278.00,216.01 278.00,216.00 278.50,216.00 278.50,216.00 279.00,216.00 279.00,215.93 279.50,215.93 279.50,215.86 280.00,215.86 280.00,215.79 280.50,215.79 280.50,215.71 281.00,215.71 281.00,215.64 281.50,215.64 281.50,215.57 282.00,215.57 282.00,215.50 282.48,215.50 282.48,215.48 282.96,215.48 282.96,215.46 283.45,215.46 283.45,215.45 283.93,215.45 283.93,215.43 284.41,215.43 284.41,215.41 284.89,215.41 284.89,215.39 285.38,215.39 285.38,215.38 285.86,215.38 285.86,215.36 286.34,215.36 286.34,215.34 286.82,215.34 286.82,215.32 287.31,215.32 287.31,215.31 287.79,215.31 287.79,215.29 288.27,215.29 288.27,215.27 288.75,215.27 288.75,215.25 289.24,215.25 289.24,215.24 289.72,215.24 289.72,215.22 290.20,215.22 290.20,215.20 290.60,215.20 290.60,214.83 291.00,214.83 291.00,214.47 291.40,214.47 291.40,214.10 291.89,214.10 291.89,214.10 292.37,214.10 292.37,214.09 292.86,214.09 292.86,214.09 293.35,214.09 293.35,214.09 293.83,214.09 293.83,214.08 294.32,214.08 294.32,214.08 294.81,214.08 294.81,214.08 295.29,214.08 295.29,214.07 295.78,214.07 295.78,214.07 296.27,214.07 296.27,214.07 296.75,214.07 296.75,214.06 297.24,214.06 297.24,214.06 297.73,214.06 297.73,214.06 298.21,214.06 298.21,214.05 298.70,214.05 298.70,214.05 299.19,214.05 299.19,214.05 299.67,214.05 299.67,214.04 300.16,214.04 300.16,214.04 300.65,214.04 300.65,214.04 301.13,214.04 301.13,214.03 301.62,214.03 301.62,214.03 302.11,214.03 302.11,214.03 302.59,214.03 302.59,214.02 303.08,214.02 303.08,214.02 303.57,214.02 303.57,214.02 304.05,214.02 304.05,214.01 304.54,214.01 304.54,214.01 305.03,214.01 305.03,214.01 305.51,214.01 305.51,214.00 306.00,214.00 306.00,214.00 306.50,214.00 306.50,213.99 307.00,213.99 307.00,213.99 307.50,213.99 307.50,213.98 308.00,213.98 308.00,213.97 308.50,213.97 308.50,213.96 309.00,213.96 309.00,213.96 309.50,213.96 309.50,213.95 310.00,213.95 310.00,213.94 310.50,213.94 310.50,213.94 311.00,213.94 311.00,213.93 311.50,213.93 311.50,213.92 312.00,213.92 312.00,213.92 312.50,213.92 312.50,213.91 313.00,213.91 313.00,213.90 313.50,213.90 313.50,213.89 314.00,213.89 314.00,213.89 314.50,213.89 314.50,213.88 315.00,213.88 315.00,213.87 315.50,213.87 315.50,213.87 316.00,213.87 316.00,213.86 316.50,213.86 316.50,213.85 317.00,213.85 317.00,213.85 317.50,213.85 317.50,213.84 318.00,213.84 318.00,213.83 318.50,213.83 318.50,213.82 319.00,213.82 319.00,213.82 319.50,213.82 319.50,213.81 320.00,213.81 320.00,213.80 320.50,213.80 320.50,213.80 321.00,213.80 321.00,213.79 321.50,213.79 321.50,213.78 322.00,213.78 322.00,213.78 322.50,213.78 322.50,213.77 323.00,213.77 323.00,213.76 323.50,213.76 323.50,213.75 324.00,213.75 324.00,213.75 324.50,213.75 324.50,213.74 325.00,213.74 325.00,213.73 325.50,213.73 325.50,213.73 326.00,213.73 326.00,213.72 326.50,213.72 326.50,213.71 327.00,213.71 327.00,213.71 327.50,213.71 327.50,213.70 328.00,213.70 328.00,213.69 328.50,213.69 328.50,213.68 329.00,213.68 329.00,213.68 329.50,213.68 329.50,213.67 330.00,213.67 330.00,213.66 330.50,213.66 330.50,213.66 331.00,213.66 331.00,213.65 331.50,213.65 331.50,213.64 332.00,213.64 332.00,213.64 332.50,213.64 332.50,213.63 333.00,213.63 333.00,213.62 333.50,213.62 333.50,213.61 334.00,213.61 334.00,213.61 334.50,213.61 334.50,213.60 335.00,213.60 335.00,213.60 335.49,213.60 335.49,213.60 335.99,213.60 335.99,213.60 336.48,213.60 336.48,213.59 336.98,213.59 336.98,213.59 337.47,213.59 337.47,213.59 337.97,213.59 337.97,213.59 338.47,213.59 338.47,213.59 338.96,213.59 338.96,213.59 339.46,213.59 339.46,213.59 339.95,213.59 339.95,213.58 340.45,213.58 340.45,213.58 340.95,213.58 340.95,213.58 341.44,213.58 341.44,213.58 341.94,213.58 341.94,213.58 342.43,213.58 342.43,213.58 342.93,213.58 342.93,213.58 343.42,213.58 343.42,213.57 343.92,213.57 343.92,213.57 344.42,213.57 344.42,213.57 344.91,213.57 344.91,213.57 345.41,213.57 345.41,213.57 345.90,213.57 345.90,213.57 346.40,213.57 346.40,213.57 346.89,213.57 346.89,213.56 347.39,213.56 347.39,213.56 347.89,213.56 347.89,213.56 348.38,213.56 348.38,213.56 348.88,213.56 348.88,213.56 349.37,213.56 349.37,213.56 349.87,213.56 349.87,213.56 350.36,213.56 350.36,213.55 350.86,213.55 350.86,213.55 351.36,213.55 351.36,213.55 351.85,213.55 351.85,213.55 352.35,213.55 352.35,213.55 352.84,213.55 352.84,213.55 353.34,213.55 353.34,213.55 353.84,213.55 353.84,213.55 354.33,213.55 354.33,213.54 354.83,213.54 354.83,213.54 355.32,213.54 355.32,213.54 355.82,213.54 355.82,213.54 356.31,213.54 356.31,213.54 356.81,213.54 356.81,213.54 357.31,213.54 357.31,213.54 357.80,213.54 357.80,213.53 358.30,213.53 358.30,213.53 358.79,213.53 358.79,213.53 359.29,213.53 359.29,213.53 359.78,213.53 359.78,213.53 360.28,213.53 360.28,213.53 360.78,213.53 360.78,213.53 361.27,213.53 361.27,213.52 361.77,213.52 361.77,213.52 362.26,213.52 362.26,213.52 362.76,213.52 362.76,213.52 363.25,213.52 363.25,213.52 363.75,213.52 363.75,213.52 364.25,213.52 364.25,213.52 364.74,213.52 364.74,213.51 365.24,213.51 365.24,213.51 365.73,213.51 365.73,213.51 366.23,213.51 366.23,213.51 366.73,213.51 366.73,213.51 367.22,213.51 367.22,213.51 367.72,213.51 367.72,213.51 368.21,213.51 368.21,213.50 368.71,213.50 368.71,213.50 369.20,213.50 369.20,213.50 369.70,213.50 369.70,213.50 369.97,213.50 369.97,213.00 370.23,213.00 370.23,212.50 370.50,212.50 370.50,212.00 371.00,212.00 371.50,212.00 372.00,212.00 372.50,212.00 373.00,212.00 373.50,212.00 374.00,212.00 374.50,212.00 375.00,212.00 375.50,212.00 376.00,212.00 376.50,212.00 377.00,212.00 377.50,212.00 378.00,212.00 378.50,212.00 379.00,212.00 379.50,212.00 380.00,212.00 380.50,212.00 381.00,212.00 381.50,212.00 382.00,212.00 382.50,212.00 383.00,212.00 383.50,212.00 384.00,212.00 384.50,212.00 385.00,212.00 385.50,212.00 386.00,212.00 386.50,212.00 387.00,212.00 387.50,212.00 388.00,212.00 388.50,212.00 389.00,212.00 389.50,212.00 390.00,212.00 390.50,212.00 391.00,212.00 391.50,212.00 392.00,212.00 392.50,212.00 393.00,212.00 393.50,212.00 394.00,212.00 394.50,212.00 395.00,212.00 395.50,212.00 396.00,212.00 396.50,212.00 397.00,212.00 397.50,212.00 398.00,212.00 398.50,212.00 399.00,212.00 399.50,212.00 400.00,212.00 400.50,212.00 401.00,212.00 401.50,212.00 402.00,212.00 402.50,212.00 403.00,212.00 403.50,212.00 404.00,212.00 404.50,212.00 405.00,212.00 405.50,212.00 406.00,212.00 406.50,212.00 407.00,212.00 407.50,212.00 408.00,212.00 408.50,212.00 409.00,212.00 409.50,212.00 410.00,212.00 410.50,212.00 411.00,212.00 411.50,212.00 412.00,212.00 412.50,212.00 413.00,212.00 413.50,212.00 414.00,212.00 414.50,212.00 415.00,212.00 415.50,212.00 416.00,212.00 416.50,212.00 417.00,212.00 417.50,212.00 418.00,212.00 418.50,212.00 419.00,212.00 419.50,212.00 420.00,212.00 420.50,212.00 421.00,212.00 421.50,212.00 422.00,212.00 422.50,212.00 423.00,212.00 423.50,212.00 424.00,212.00 424.50,212.00 425.00,212.00 425.50,212.00 426.00,212.00 426.50,212.00 427.00,212.00 427.50,212.00 428.00,212.00 428.50,212.00 429.00,212.00 429.50,212.00 430.00,212.00 430.50,212.00 431.00,212.00 431.50,212.00 432.00,212.00 432.50,212.00 433.00,212.00 433.50,212.00 434.00,212.00 434.50,212.00 435.00,212.00 435.50,212.00 436.00,212.00 436.50,212.00 437.00,212.00 437.50,212.00 438.00,212.00 438.50,212.00 439.00,212.00 439.50,212.00 440.00,212.00" fill="none" stroke="#000" stroke-width="2.0" stroke-dasharray="6.5 2.4 1.3 2.7" stroke-dashoffset="5.90" stroke-linejoin="round"/>
<line x1="45" y1="3" x2="45" y2="282" stroke="#000" stroke-width="2"/>
<line x1="44" y1="281" x2="448" y2="281" stroke="#000" stroke-width="2"/>
<line x1="40" y1="274.00" x2="45" y2="274.00" stroke="#000" stroke-width="2"/>
<text transform="translate(36.4 274.00) rotate(-90) scale(1 1.04)" text-anchor="middle" font-size="11.5">0</text>
<line x1="40" y1="241.00" x2="45" y2="241.00" stroke="#000" stroke-width="2"/>
<text transform="translate(36.4 241.00) rotate(-90) scale(1 1.04)" text-anchor="middle" font-size="11.5">.1</text>
<line x1="40" y1="208.00" x2="45" y2="208.00" stroke="#000" stroke-width="2"/>
<text transform="translate(36.4 208.00) rotate(-90) scale(1 1.04)" text-anchor="middle" font-size="11.5">.2</text>
<line x1="40" y1="175.00" x2="45" y2="175.00" stroke="#000" stroke-width="2"/>
<text transform="translate(36.4 175.00) rotate(-90) scale(1 1.04)" text-anchor="middle" font-size="11.5">.3</text>
<line x1="40" y1="142.00" x2="45" y2="142.00" stroke="#000" stroke-width="2"/>
<text transform="translate(36.4 142.00) rotate(-90) scale(1 1.04)" text-anchor="middle" font-size="11.5">.4</text>
<line x1="40" y1="109.00" x2="45" y2="109.00" stroke="#000" stroke-width="2"/>
<text transform="translate(36.4 109.00) rotate(-90) scale(1 1.04)" text-anchor="middle" font-size="11.5">.5</text>
<line x1="40" y1="76.00" x2="45" y2="76.00" stroke="#000" stroke-width="2"/>
<text transform="translate(36.4 76.00) rotate(-90) scale(1 1.04)" text-anchor="middle" font-size="11.5">.6</text>
<line x1="40" y1="43.00" x2="45" y2="43.00" stroke="#000" stroke-width="2"/>
<text transform="translate(36.4 43.00) rotate(-90) scale(1 1.04)" text-anchor="middle" font-size="11.5">.7</text>
<line x1="40" y1="10.00" x2="45" y2="10.00" stroke="#000" stroke-width="2"/>
<text transform="translate(36.4 10.00) rotate(-90) scale(1 1.04)" text-anchor="middle" font-size="11.5">.8</text>
<line x1="52.00" y1="281" x2="52.00" y2="286" stroke="#000" stroke-width="2"/>
<text transform="translate(52.00 299.5) scale(1 1.04)" text-anchor="middle" font-size="11.5">0</text>
<line x1="95.22" y1="281" x2="95.22" y2="286" stroke="#000" stroke-width="2"/>
<text transform="translate(95.22 299.5) scale(1 1.04)" text-anchor="middle" font-size="11.5">4</text>
<line x1="138.44" y1="281" x2="138.44" y2="286" stroke="#000" stroke-width="2"/>
<text transform="translate(138.44 299.5) scale(1 1.04)" text-anchor="middle" font-size="11.5">8</text>
<line x1="181.67" y1="281" x2="181.67" y2="286" stroke="#000" stroke-width="2"/>
<text transform="translate(181.67 299.5) scale(1 1.04)" text-anchor="middle" font-size="11.5">12</text>
<line x1="224.89" y1="281" x2="224.89" y2="286" stroke="#000" stroke-width="2"/>
<text transform="translate(224.89 299.5) scale(1 1.04)" text-anchor="middle" font-size="11.5">16</text>
<line x1="268.11" y1="281" x2="268.11" y2="286" stroke="#000" stroke-width="2"/>
<text transform="translate(268.11 299.5) scale(1 1.04)" text-anchor="middle" font-size="11.5">20</text>
<line x1="311.33" y1="281" x2="311.33" y2="286" stroke="#000" stroke-width="2"/>
<text transform="translate(311.33 299.5) scale(1 1.04)" text-anchor="middle" font-size="11.5">24</text>
<line x1="354.56" y1="281" x2="354.56" y2="286" stroke="#000" stroke-width="2"/>
<text transform="translate(354.56 299.5) scale(1 1.04)" text-anchor="middle" font-size="11.5">28</text>
<line x1="397.78" y1="281" x2="397.78" y2="286" stroke="#000" stroke-width="2"/>
<text transform="translate(397.78 299.5) scale(1 1.04)" text-anchor="middle" font-size="11.5">32</text>
<line x1="441.00" y1="281" x2="441.00" y2="286" stroke="#000" stroke-width="2"/>
<text transform="translate(441.00 299.5) scale(1 1.04)" text-anchor="middle" font-size="11.5">36</text>
<text transform="translate(261.1 322.3) scale(1 1.04)" text-anchor="middle" font-size="13.6" font-weight="bold" style="stroke-width:0.1px">Months</text>
<text transform="translate(12.9 137.4) rotate(-90) scale(1 1.04)" text-anchor="middle" font-size="13.65" font-weight="bold" style="stroke-width:0.1px">Cumulative NRM, %</text>
<text transform="translate(451.4 154.8) scale(1 1.04)" font-size="11.5">HCT-CI&#8805;3</text>
<text transform="translate(451.4 189.8) scale(1 1.04)" font-size="11.5">HCT-CI=1-2</text>
<text transform="translate(451.4 215.9) scale(1 1.04)" font-size="11.5">HCT-CI=0</text>
</svg>
</body></html>
